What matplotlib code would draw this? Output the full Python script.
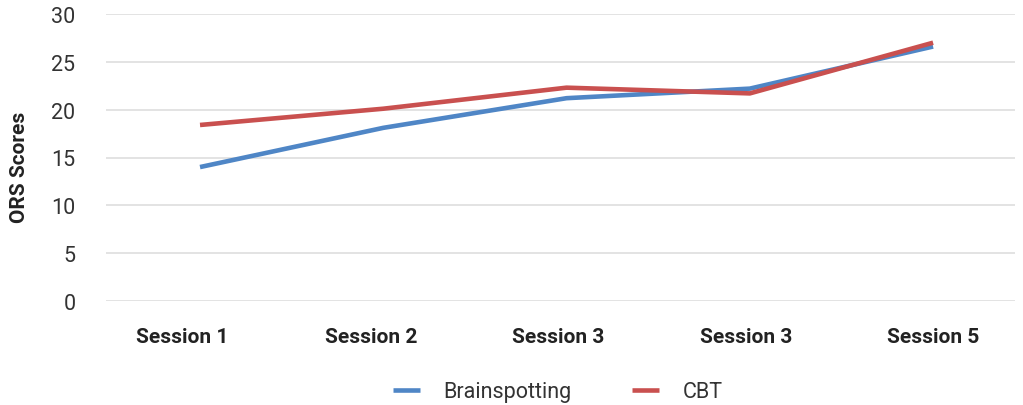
import matplotlib.pyplot as plt

sessions = ['Session 1', 'Session 2', 'Session 3', 'Session 3', 'Session 5']
brainspotting = [14.0, 18.1, 21.2, 22.2, 26.6]
cbt = [18.4, 20.1, 22.3, 21.7, 27.0]

plt.rcParams['font.family'] = ['Roboto', 'DejaVu Sans']

fig = plt.figure(figsize=(10.23, 4.06), dpi=100)
ax = fig.add_axes([106 / 1023, 1 - 302 / 406, (1015 - 106) / 1023, (302 - 15) / 406])

x = list(range(len(sessions)))
ax.plot(x, brainspotting, color='#4f86c6', lw=3.3, label='Brainspotting', solid_capstyle='butt')
ax.plot(x, cbt, color='#c9504f', lw=3.3, label='CBT', solid_capstyle='butt')

ax.set_xlim(-0.513, 4.447)
ax.set_ylim(0, 30)
ax.set_yticks(range(0, 31, 5))
# the source spaces its category labels a little wider than the points
label_pos = [-0.095, 0.933, 1.954, 2.98, 4.0]
ax.set_xticks(label_pos)
ax.set_xticklabels(sessions, fontweight='bold', fontsize=15, color='#222222')
ax.tick_params(axis='y', labelsize=15.5, labelcolor='#333333', length=0, pad=22)
ax.tick_params(axis='x', length=0, pad=19)
ax.grid(axis='y', color='#e0e0e0', lw=1.3)
ax.grid(axis='x', visible=False)
ax.set_axisbelow(True)
for s in ax.spines.values():
    s.set_visible(False)

ax.set_ylabel('ORS Scores', fontweight='bold', fontsize=15, color='#222222')
ax.yaxis.set_label_coords(-0.0847, 0.47)

fig.legend(loc='center', bbox_to_anchor=(0.545, 1 - 393 / 406), ncol=2, frameon=False,
           fontsize=15.5, handlelength=1.25, columnspacing=2.8, handletextpad=1.1,
           labelcolor='#333333')

fig.savefig('out.png', dpi=100)
